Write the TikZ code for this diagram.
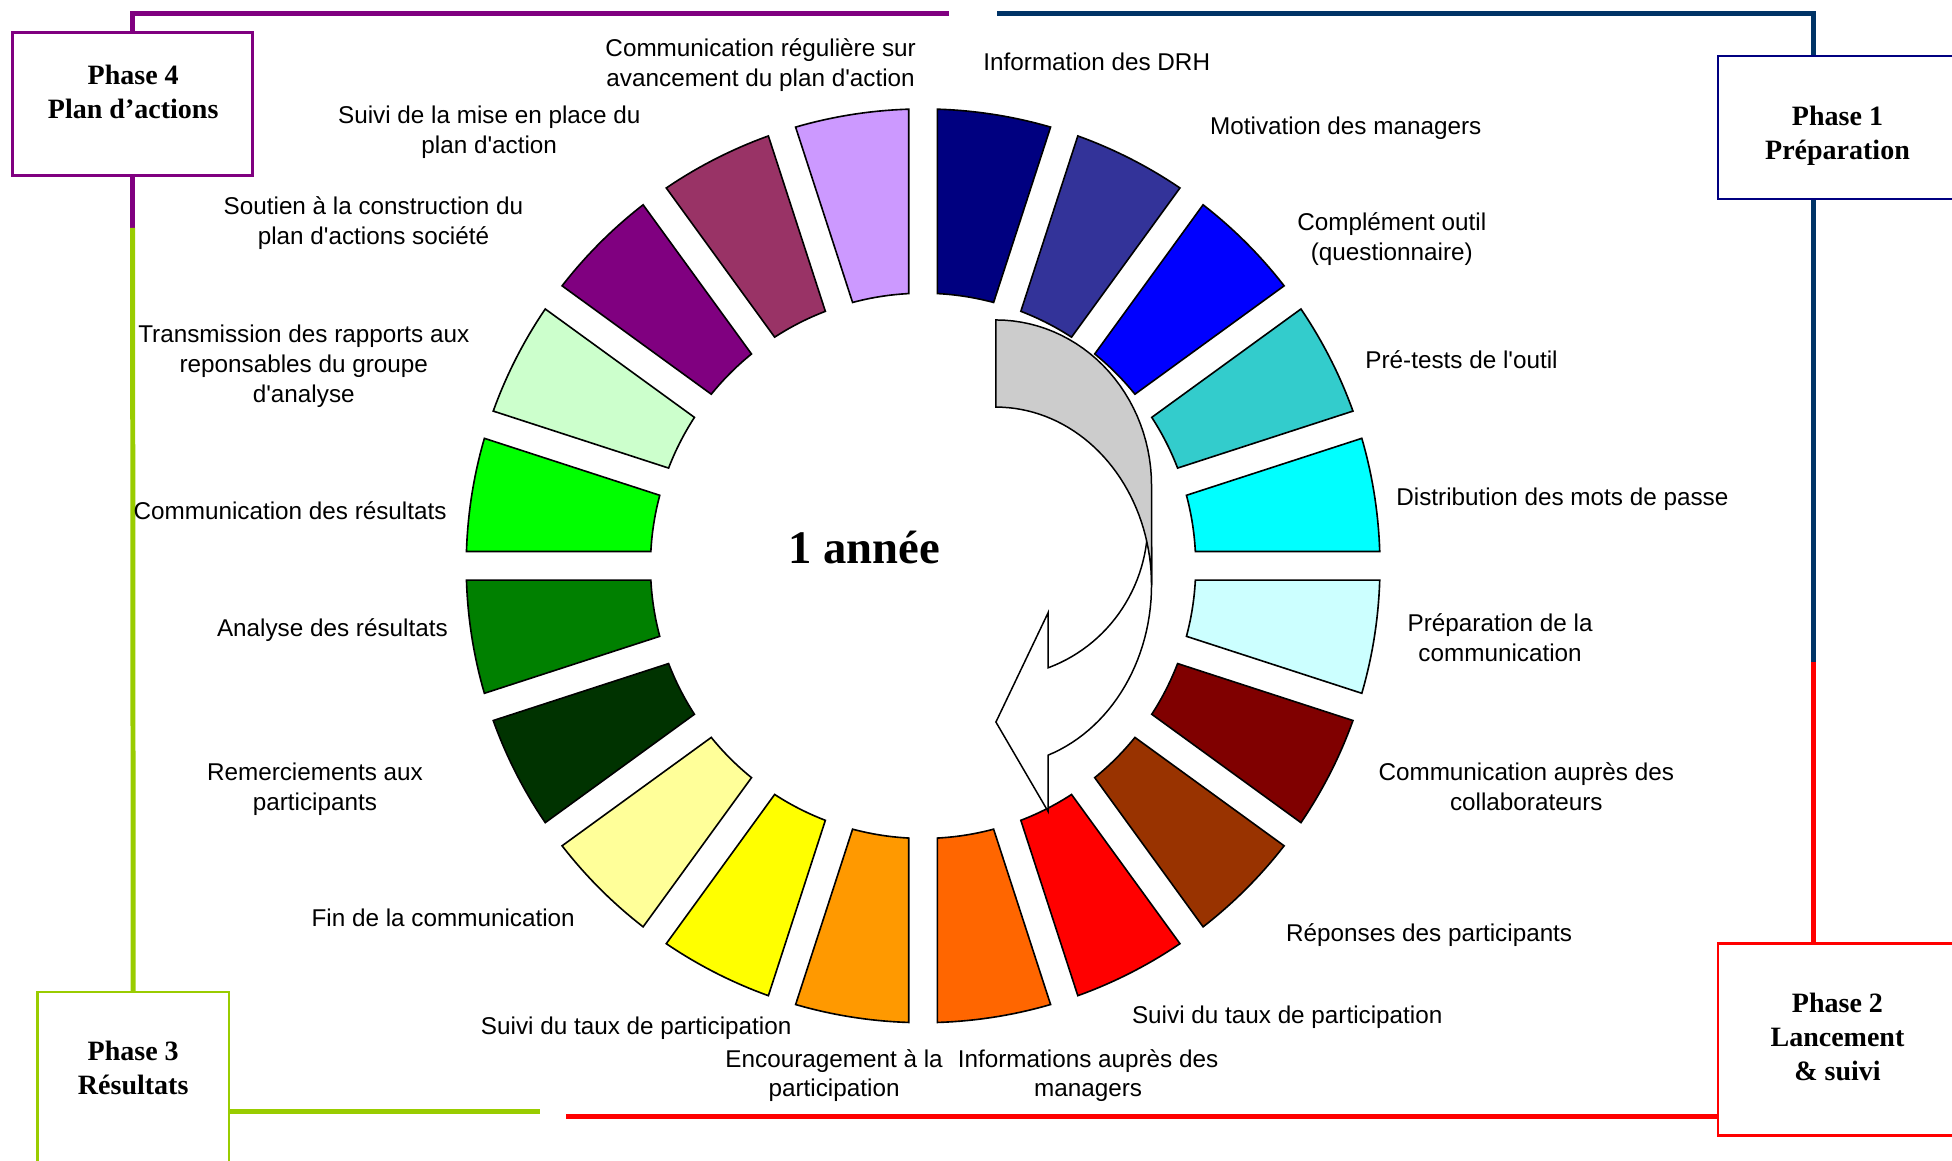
\documentclass[tikz,border=0pt]{standalone}
\usepackage{fontspec}
\newfontfamily\lab{Liberation Sans}
\newfontfamily\serifb{Liberation Serif}
\definecolor{seg0}{HTML}{000080}
\definecolor{seg1}{HTML}{333399}
\definecolor{seg2}{HTML}{0000FF}
\definecolor{seg3}{HTML}{33CCCC}
\definecolor{seg4}{HTML}{00FFFF}
\definecolor{seg5}{HTML}{CCFFFF}
\definecolor{seg6}{HTML}{800000}
\definecolor{seg7}{HTML}{993300}
\definecolor{seg8}{HTML}{FF0000}
\definecolor{seg9}{HTML}{FF6600}
\definecolor{seg10}{HTML}{FF9900}
\definecolor{seg11}{HTML}{FFFF00}
\definecolor{seg12}{HTML}{FFFF99}
\definecolor{seg13}{HTML}{003300}
\definecolor{seg14}{HTML}{008000}
\definecolor{seg15}{HTML}{00FF00}
\definecolor{seg16}{HTML}{CCFFCC}
\definecolor{seg17}{HTML}{800080}
\definecolor{seg18}{HTML}{993366}
\definecolor{seg19}{HTML}{CC99FF}
\definecolor{lpurple}{HTML}{800080}
\definecolor{lnavy}{HTML}{003366}
\definecolor{bnavy}{HTML}{000080}
\definecolor{lred}{HTML}{FF0000}
\definecolor{lgreen}{HTML}{99CC00}
\definecolor{arrowgray}{HTML}{CCCCCC}
\tikzset{
  lbl/.style={font=\lab\fontsize{19.5}{24}\selectfont, align=center, inner sep=0pt},
  phasebox/.style={draw, line width=2pt, fill=white, inner sep=0pt},
  phasetxt/.style={font=\serifb\bfseries\fontsize{22.5}{27}\selectfont, align=center, inner sep=0pt},
  conn/.style={line width=4pt},
  segline/.style={draw=black, line width=1.3pt, line join=miter},
  arrline/.style={draw=black, line width=1.2pt, line join=miter},
}
\begin{document}
\begin{tikzpicture}[x=1pt,y=-1pt]
\useasboundingbox (0,0) rectangle (1568,932);
\clip (0,0) rectangle (1568,932);

% ring segments
\foreach \i in {0,...,19}{
  \pgfmathsetmacro\oa{90-18*\i-1.796}
  \pgfmathsetmacro\ob{72-18*\i+1.796}
  \pgfmathsetmacro\ia{72-18*\i+3.01}
  \pgfmathsetmacro\ib{90-18*\i-3.01}
  \filldraw[fill=seg\i, segline]
    plot[domain=\oa:\ob, samples=16] ({741.5+367*cos(\x)},{454.5-367*sin(\x)})
    -- plot[domain=\ia:\ib, samples=16] ({741.5+219*cos(\x)},{454.5-219*sin(\x)})
    -- cycle;
}

% central curved arrow: front face (drawn first)
\filldraw[fill=white, arrline]
  (925,440) -- (925,470)
  -- plot[domain=0:-70.4, samples=30] ({800+125*cos(\x)},{470-145*sin(\x)})
  -- (842,652) -- (800,580) -- (842,492) -- (842,536.4)
  -- plot[domain=-69.7:0, samples=30] ({800+122*cos(\x)},{420-124*sin(\x)})
  -- cycle;
% back face
\filldraw[fill=arrowgray, arrline]
  plot[domain=90:0, samples=30] ({800+125*cos(\x)},{390-133*sin(\x)})
  -- (925,470)
  -- plot[domain=0:90, samples=40] ({800+125*cos(\x)},{470-143*sin(\x)})
  -- cycle;

\node[font=\serifb\bfseries\fontsize{37.5}{45}\selectfont, inner sep=0pt] (year) at (694,440) {1 année};

% phase boxes
\node[phasebox, draw=lpurple, minimum width=193pt, minimum height=115pt] (p4) at (106.5,83.5) {};
\node[phasebox, draw=bnavy, minimum width=192pt, minimum height=115pt] (p1) at (1476,102.5) {};
\node[phasebox, draw=lred, minimum width=192pt, minimum height=154pt] (p2) at (1476,835) {};
\node[phasebox, draw=lgreen, minimum width=154pt, minimum height=163pt] (p3) at (107,878.5) {};

\node[phasetxt] (p4t) at (107,74) {Phase 4\\Plan d’actions};
\node[phasetxt] (p1t) at (1476,109) {Phase 1\\Préparation};
\node[phasetxt] (p2t) at (1476,833) {Phase 2\\Lancement\\\& suivi};
\node[phasetxt] (p3t) at (107,858) {Phase 3\\Résultats};

% connectors
\coordinate (pend) at (762,11);
\coordinate (mid4) at (106.5,183);
\coordinate (gend) at (434,893);
\coordinate (rstart) at (455,897);
\coordinate (rv) at (1457,532);
\coordinate (nend) at (801,11);
\draw[conn, lpurple] (p4.north) |- (pend);
\draw[conn, lpurple] (p4.south) -- (mid4);
\draw[conn, lgreen] (mid4) -- (p3.north);
\draw[conn, lgreen] (p3.east |- gend) -- (gend);
\draw[conn, lred] (rstart) -- (rstart -| p2.west);
\draw[conn, lred] (rv |- p2.north) -- (rv);
\draw[conn, lnavy] (rv) -- (rv |- p1.south);
\draw[conn, lnavy] (rv |- p1.north) |- (nend);

% labels
\node[lbl] (l19) at (611,52) {Communication régulière sur\\avancement du plan d'action};
\node[lbl] (l0) at (881,50) {Information des DRH};
\node[lbl] (l1) at (1081,103) {Motivation des managers};
\node[lbl] (l2) at (1118,192) {Complément outil\\(questionnaire)};
\node[lbl] (l3) at (1174,289) {Pré-tests de l'outil};
\node[lbl] (l4) at (1255,401) {Distribution des mots de passe};
\node[lbl] (l5) at (1205,512) {Préparation de la\\communication};
\node[lbl] (l6) at (1226,632) {Communication auprès des\\collaborateurs};
\node[lbl] (l7) at (1148,751) {Réponses des participants};
\node[lbl] (l8) at (1034,817) {Suivi du taux de participation};
\node[lbl] (l9) at (874,864) {Informations auprès des\\managers};
\node[lbl] (l10) at (670,864) {Encouragement à la\\participation};
\node[lbl] (l11) at (511,826) {Suivi du taux de participation};
\node[lbl] (l12) at (356,737) {Fin de la communication};
\node[lbl] (l13) at (253,634) {Remerciements aux\\participants};
\node[lbl] (l14) at (267,506) {Analyse des résultats};
\node[lbl] (l15) at (233,410) {Communication des résultats};
\node[lbl] (l16) at (244,294) {Transmission des rapports aux\\reponsables du groupe\\d'analyse};
\node[lbl] (l17) at (300,179) {Soutien à la construction du\\plan d'actions société};
\node[lbl] (l18) at (393,106) {Suivi de la mise en place du\\plan d'action};
\end{tikzpicture}
\end{document}
